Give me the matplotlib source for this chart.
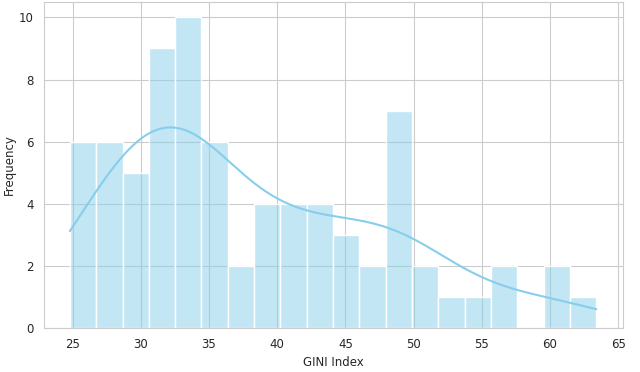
import matplotlib

matplotlib.use("Agg")
import matplotlib.pyplot as plt
import seaborn as sns

# GINI index values (20 bins, 77 countries)
gini = [
    24.8, 25.2, 25.6, 25.9, 26.2, 26.5,
    26.9, 27.3, 27.6, 27.9, 28.2, 28.5,
    28.9, 29.3, 29.7, 30.0, 30.4,
    30.7, 30.9, 31.1, 31.3, 31.5, 31.7, 31.9, 32.1, 32.3,
    32.6, 32.8, 33.0, 33.2, 33.4, 33.6, 33.8, 34.0, 34.2, 34.4,
    34.6, 34.9, 35.2, 35.5, 35.8, 36.2,
    37.0, 37.8,
    38.5, 39.0, 39.5, 40.0,
    40.5, 41.0, 41.5, 42.0,
    42.4, 42.9, 43.4, 43.9,
    44.5, 45.1, 45.7,
    46.6, 47.4,
    48.1, 48.4, 48.7, 49.0, 49.3, 49.5, 49.8,
    50.4, 51.2,
    52.8,
    54.7,
    56.3, 57.0,
    60.0, 60.9,
    63.4,
]

sns.set_style("whitegrid")
plt.rcParams.update({"font.size": 8.5})

fig, ax = plt.subplots(figsize=(6.4, 3.72), dpi=100)
sns.histplot(gini, bins=20, kde=True, color="skyblue", ax=ax)
ax.set_xlabel("GINI Index")
ax.set_ylabel("Frequency", labelpad=2)

fig.subplots_adjust(left=0.068, right=0.973, top=0.995, bottom=0.118)
fig.savefig("out.png", dpi=100)
